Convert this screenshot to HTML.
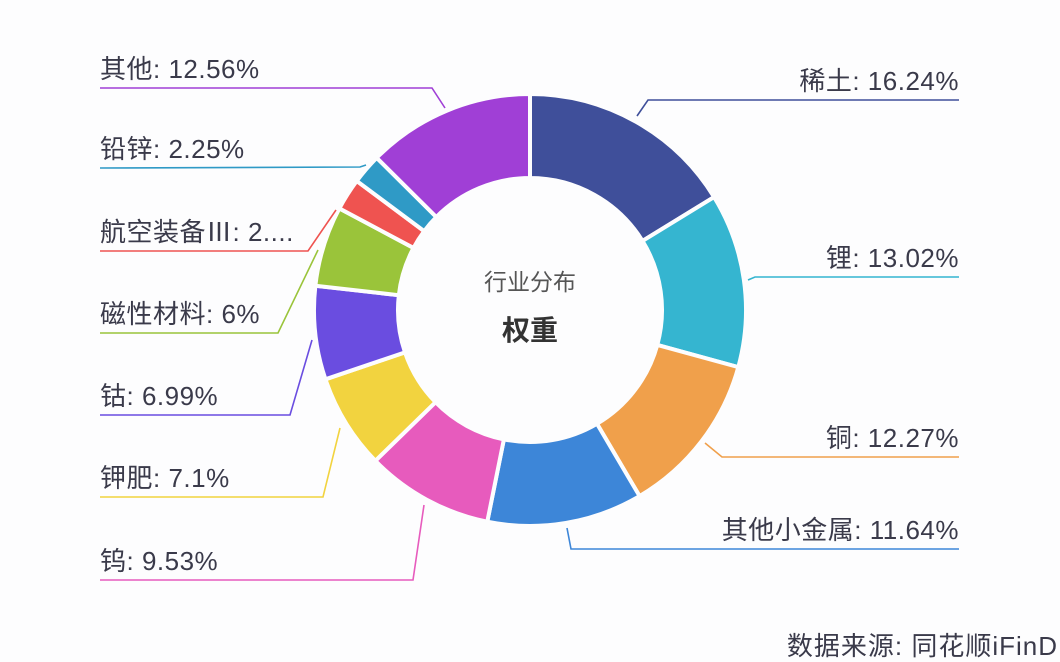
<!DOCTYPE html>
<html><head><meta charset="utf-8"><style>
html,body{margin:0;padding:0;background:#fdfdfe;}
svg{display:block;}
text{font-family:"Liberation Sans","Noto Sans CJK SC",sans-serif;fill:#3a3a4a;}
</style></head><body>
<svg id="s" width="1060" height="662" viewBox="0 0 1060 662" xmlns="http://www.w3.org/2000/svg">
<g id="arcs"></g>
<g fill="none" stroke-width="1.6">
<polyline points="637,116 648,100 959,100" stroke="#3f4f9a"/>
<polyline points="748,280 755,277 959,277" stroke="#35b5d0"/>
<polyline points="705,443 722,457 959,457" stroke="#f0a04b"/>
<polyline points="567,528 571,549 959,549" stroke="#3d86d8"/>
<polyline points="100,88 432,88 445,108" stroke="#a03fd6"/>
<polyline points="100,168 360,167 366,165" stroke="#2f9ac6"/>
<polyline points="100,251 308,251 336,210" stroke="#ef5350"/>
<polyline points="100,333 278,333 318,250" stroke="#9ac43a"/>
<polyline points="100,415 290,415 312,340" stroke="#6a4de0"/>
<polyline points="100,497 323,497 340,428" stroke="#f2d33f"/>
<polyline points="100,580 413,580 424,505" stroke="#e75bbd"/>
</g>
<g font-size="26" letter-spacing="0.5">
<text x="959" y="90" text-anchor="end">稀土: 16.24%</text>
<text x="959" y="267" text-anchor="end">锂: 13.02%</text>
<text x="959" y="447" text-anchor="end">铜: 12.27%</text>
<text x="959" y="539" text-anchor="end">其他小金属: 11.64%</text>
<text x="100" y="78">其他: 12.56%</text>
<text x="100" y="158">铅锌: 2.25%</text>
<text x="100" y="241">航空装备Ⅲ: 2....</text>
<text x="100" y="323">磁性材料: 6%</text>
<text x="100" y="405">钴: 6.99%</text>
<text x="100" y="487">钾肥: 7.1%</text>
<text x="100" y="570">钨: 9.53%</text>
<text x="1058" y="655" text-anchor="end" letter-spacing="1">数据来源: 同花顺iFinD</text>
</g>
<text x="530" y="290" text-anchor="middle" font-size="23" style="fill:#555">行业分布</text>
<text x="530" y="340" text-anchor="middle" font-size="28" font-weight="bold" style="fill:#333">权重</text>
</svg>
<script>
var d=[[16.24,"#3f4f9a"],[13.02,"#35b5d0"],[12.27,"#f0a04b"],[11.64,"#3d86d8"],[9.53,"#e75bbd"],[7.1,"#f2d33f"],[6.99,"#6a4de0"],[6,"#9ac43a"],[2.4,"#ef5350"],[2.25,"#2f9ac6"],[12.56,"#a03fd6"]];
var tot=0;d.forEach(function(e){tot+=e[0];});
var cx=530,cy=310,R=216,r=132,a=0,g=document.getElementById("arcs"),h="";
function p(rad,ang){return [(cx+rad*Math.sin(ang)).toFixed(2),(cy-rad*Math.cos(ang)).toFixed(2)];}
d.forEach(function(e){
 var a2=a+e[0]/tot*2*Math.PI,l=(a2-a)>Math.PI?1:0;
 var p1=p(R,a),p2=p(R,a2),p3=p(r,a2),p4=p(r,a);
 h+='<path d="M'+p1+' A'+R+','+R+' 0 '+l+' 1 '+p2+' L'+p3+' A'+r+','+r+' 0 '+l+' 0 '+p4+' Z" fill="'+e[1]+'" stroke="#fdfdfe" stroke-width="4"/>';
 a=a2;});
g.innerHTML=h;
</script>
</body></html>
